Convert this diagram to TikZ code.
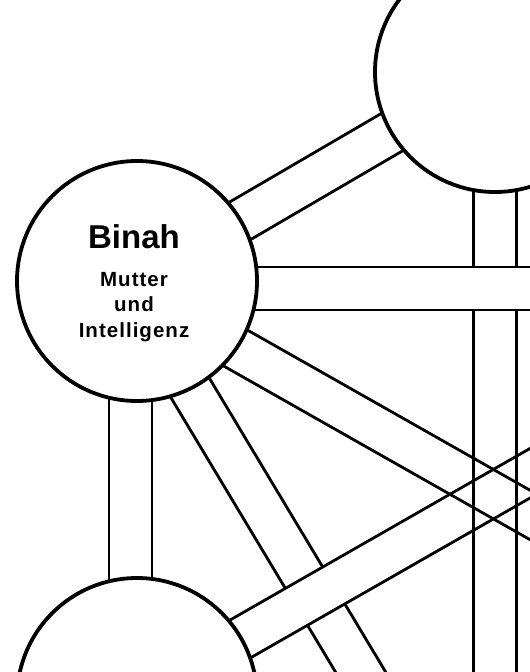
\documentclass[tikz,border=0pt]{standalone}
\usepackage{fontspec}
\setmainfont{Liberation Sans}
\usetikzlibrary{calc,backgrounds}

\tikzset{
  sephira/.style={circle, draw, line width=3.8pt, fill=white,
    minimum size=240pt, inner sep=0pt},
  pfadlinie/.style={line width=2.8pt},
  titel/.style={anchor=base, font=\fontsize{33}{33}\selectfont\bfseries},
  untertitel/.style={anchor=base, align=center,
    font=\fontsize{20.5}{25.5}\selectfont\bfseries\addfontfeatures{LetterSpace=5}}
}

% Pfad als Band: zwei parallele Linien, optional weiss gefuellt
\newcommand{\pfad}[3][]{%
  \coordinate (pa) at ($(#2)!21.5pt!90:(#3)$);
  \coordinate (pb) at ($(#3)!21.5pt!-90:(#2)$);
  \coordinate (pc) at ($(#3)!21.5pt!90:(#2)$);
  \coordinate (pd) at ($(#2)!21.5pt!-90:(#3)$);
  \path[#1] (pa) -- (pb) -- (pc) -- (pd) -- cycle;
  \draw[pfadlinie] (pa) -- (pb) (pc) -- (pd);
}

\begin{document}
\begin{tikzpicture}[x=1pt,y=-1pt]
  \useasboundingbox (0,0) rectangle (530,672);
  \clip (0,0) rectangle (530,672);

  % Sephiroth
  \node[sephira] (binah) at (137,281) {};
  \node[sephira] (kether) at (495,72) {};
  \node[sephira] (geburah) at (137,698) {};
  \coordinate (chokmah) at (853,288.5);
  \coordinate (chesed) at (853,698);
  \coordinate (tiphareth) at (495,896);
  \coordinate (binah hub) at (130.5,288.5);

  \node[titel] (binah name) at ($(binah)+(-3,-33)$) {Binah};
  % base = Grundlinie der letzten Zeile
  \node[untertitel] (binah text) at ($(binah)+(-3,56)$) {Mutter\\und\\Intelligenz};

  % Pfade
  \begin{scope}[on background layer]
    \pfad{binah hub}{tiphareth}
    \pfad[fill=white]{geburah}{chokmah}
    \pfad{binah hub}{chesed}
    \pfad{kether}{tiphareth}
    \pfad{binah}{kether}
    \pfad{binah hub}{binah hub |- geburah}
    \pfad[fill=white]{binah hub}{chokmah}
  \end{scope}
\end{tikzpicture}
\end{document}
